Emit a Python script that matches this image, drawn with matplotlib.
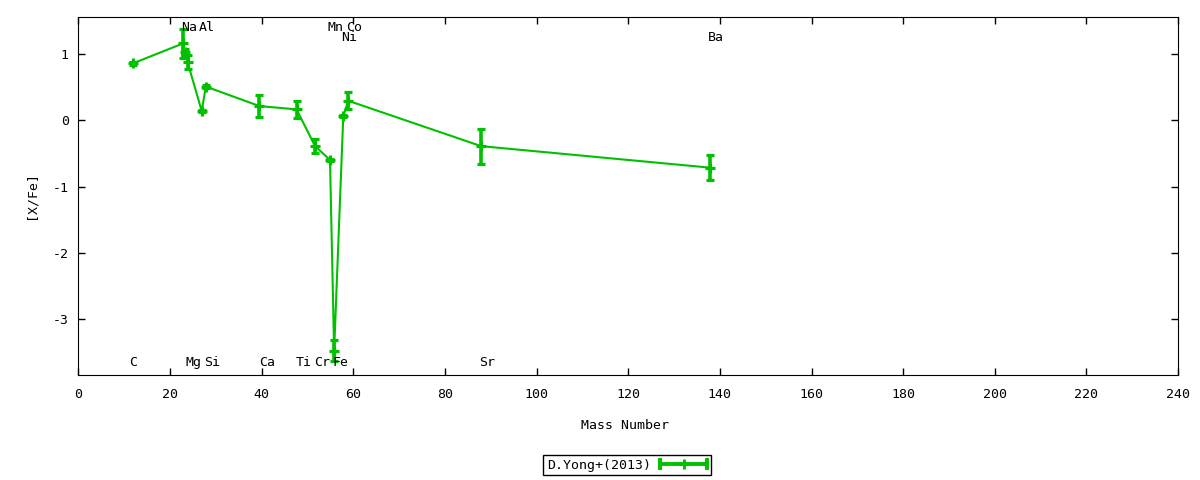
import matplotlib
matplotlib.use("Agg")
import matplotlib.pyplot as plt
from matplotlib.container import ErrorbarContainer
from matplotlib.legend_handler import HandlerBase
from matplotlib.lines import Line2D

# abundance pattern, D.Yong+(2013)
mass = [11.9, 22.8, 23.3, 23.8, 26.9, 27.8, 39.5, 47.6, 51.6, 54.9, 55.8, 57.8, 58.9, 87.9, 137.9]
xfe = [0.86, 1.16, 1.03, 0.88, 0.14, 0.51, 0.215, 0.165, -0.385, -0.60, -3.48, 0.065, 0.295, -0.39, -0.715]
err = [0.02, 0.215, 0.04, 0.11, 0.02, 0.02, 0.16, 0.13, 0.11, 0.02, 0.16, 0.02, 0.13, 0.265, 0.19]

# element labels: name, mass, row
top_names = ["Na", "Al", "Mn", "Co"]
top_mass = [23, 27, 55, 59]
mid_names = ["Ni", "Ba"]
mid_mass = [58, 138]
bot_names = ["C", "Mg", "Si", "Ca", "Ti", "Cr", "Fe", "Sr"]
bot_mass = [12, 24, 28, 40, 48, 52, 56, 88]

plt.rcParams['font.family'] = ['DejaVu Sans Mono']
plt.rcParams['font.size'] = 9.5
plt.rcParams['axes.unicode_minus'] = False

green = '#00c000'


# gnuplot-like key sample: horizontal bar with end caps and a cross in the middle
class HandlerGnuErr(HandlerBase):
    def create_artists(self, legend, orig_handle, xdescent, ydescent,
                       width, height, fontsize, trans):
        y = height / 2 - ydescent
        x0 = -xdescent
        x1 = x0 + width
        bar = Line2D([x0, x1], [y, y], color=green, lw=2.8)
        caps = Line2D([x0, x1], [y, y], ls='none', marker='|', ms=8,
                      mew=2.8, color=green)
        mid = Line2D([(x0 + x1) / 2], [y], ls='none', marker='+', ms=7,
                     mew=2.2, color=green)
        for a in (bar, caps, mid):
            a.set_transform(trans)
        return [bar, caps, mid]


fig = plt.figure(figsize=(12, 4.8), dpi=100)
ax = fig.add_axes([0.0654, 0.21875, 0.9163, 0.74585])

ax.errorbar(mass, xfe, yerr=err, color=green, lw=1.5, elinewidth=2.6,
            capsize=3, capthick=2.6, marker='+', markersize=7, mew=2.3,
            label='D.Yong+(2013)')

ax.set_xlim(0, 240)
ax.set_ylim(-3.845, 1.56)
ax.set_xticks(range(0, 241, 20))
ax.set_yticks([-3, -2, -1, 0, 1])

ax.tick_params(direction='in', length=5, width=1, top=True, right=True)
ax.tick_params(axis='x', pad=9)
ax.tick_params(axis='y', pad=7)

for name, m in zip(top_names, top_mass):
    ax.annotate(name, (m, 1.40), xytext=((len(name) - 1) * 5, 0),
                textcoords='offset pixels', ha='center', va='center')
for name, m in zip(mid_names, mid_mass):
    ax.annotate(name, (m, 1.25), xytext=((len(name) - 1) * 5, 0),
                textcoords='offset pixels', ha='center', va='center')
for name, m in zip(bot_names, bot_mass):
    ax.annotate(name, (m, -3.66), xytext=((len(name) - 1) * 5, 0),
                textcoords='offset pixels', ha='center', va='center')

ax.set_xlabel("Mass Number")
ax.xaxis.set_label_coords(0.497, -0.123)
ax.set_ylabel("[X/Fe]")
ax.yaxis.set_label_coords(-0.037, 0.503)

leg = fig.legend(loc='center', bbox_to_anchor=(0.5225, 0.031), markerfirst=False,
                 fancybox=False, framealpha=1, edgecolor='black',
                 handlelength=3.6, borderpad=0.25, handletextpad=0.7,
                 handler_map={ErrorbarContainer: HandlerGnuErr()})
leg.get_frame().set_linewidth(1)

fig.savefig("out.png", dpi=100)
